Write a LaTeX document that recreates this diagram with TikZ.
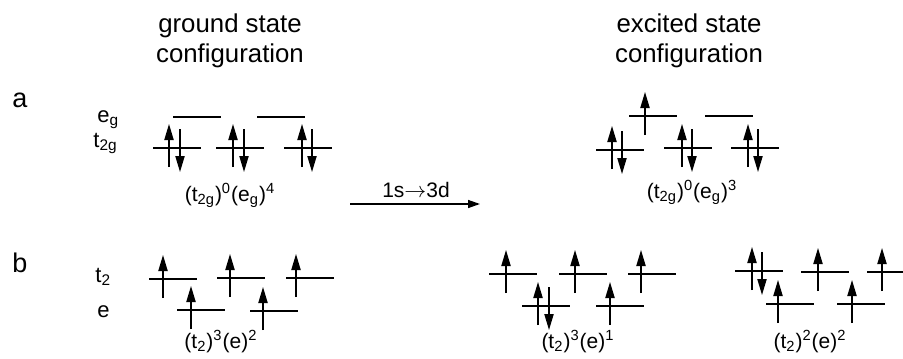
\documentclass[tikz,border=0pt]{standalone}
\usepackage{fontspec}
\setmainfont{Liberation Sans}
\usetikzlibrary{arrows.meta}

\begin{document}
\begin{tikzpicture}[
  x=0.5pt, y=-0.5pt,
  nivel/.style={line width=1pt},
  espin/.style={line width=0.7pt, -{Triangle[length=8pt,width=4.6pt]}},
  reaccion/.style={line width=0.7pt, -{Triangle[length=6pt,width=4pt]}},
  titulo/.style={align=center, inner sep=0pt, font=\fontsize{12.9}{15}\selectfont},
  letra/.style={anchor=base west, inner sep=0pt, font=\fontsize{13.5}{15}\selectfont},
  orbital/.style={anchor=base west, inner sep=0pt, font=\fontsize{11}{13}\selectfont},
  config/.style={anchor=base, inner sep=0pt, font=\fontsize{10.5}{12}\selectfont}
]
\useasboundingbox (0,0) rectangle (903,358);

% titulos
\node[titulo] (fund) at (230,41) {ground state\\configuration};
\node[titulo] (exc) at (689,41) {excited state\\configuration};
\node[letra] (a) at (12,107) {a};
\node[letra] (b) at (12,272) {b};

% etiquetas de orbitales
\node[orbital] (eg) at (97,122) {e\textsubscript{g}};
\node[orbital] (t2g) at (93,147) {t\textsubscript{2g}};
\node[orbital] (t2) at (95,282) {t\textsubscript{2}};
\node[orbital] (e) at (97,317) {e};

% niveles
\foreach \x/\l in {173/117, 257/117, 153/148, 216/148, 284/148,
                   629/116, 705/116, 596/150, 664/148, 731/148,
                   149/279, 217/278, 286/278, 177/310, 250/311,
                   489/274, 559/274, 628/274, 522/306, 596/306,
                   735/271, 801/272, 766/304, 837/304}
  \draw[nivel] (\x,\l) -- ++(48,0);
\draw[nivel] (867,272) -- (903,272);

% espines arriba
\foreach \x/\l in {169/148, 233/148, 302/148, 645/116, 612/150, 682/148, 748/148,
                   163/279, 230/278, 296/278, 191/310, 263/311,
                   506/274, 575/274, 641/274, 538/306, 610/306,
                   752/271, 818/272, 882/272, 778/304, 852/304}
  \draw[espin] (\x,\l+19) -- (\x,\l-24);
% espines abajo
\foreach \x/\l in {180/148, 244/148, 312/148, 622/150, 692/148, 758/148, 549/306, 762/271}
  \draw[espin] (\x,\l-19) -- (\x,\l+24);

% configuraciones
\node[config] (cfa) at (230,201) {(t\textsubscript{2g})\textsuperscript{0}(e\textsubscript{g})\textsuperscript{4}};
\node[config] (cfb) at (692,198) {(t\textsubscript{2g})\textsuperscript{0}(e\textsubscript{g})\textsuperscript{3}};
\node[config] (cf1) at (221,348) {(t\textsubscript{2})\textsuperscript{3}(e)\textsuperscript{2}};
\node[config] (cf2) at (578,348) {(t\textsubscript{2})\textsuperscript{3}(e)\textsuperscript{1}};
\node[config] (cf3) at (810,348) {(t\textsubscript{2})\textsuperscript{2}(e)\textsuperscript{2}};

% transicion
\node[config] (trans) at (416,197) {1s$\rightarrow$3d};
\coordinate (ini) at (350,204);
\coordinate (fin) at (480,204);
\draw[reaccion] (ini) -- (fin);
\end{tikzpicture}
\end{document}
